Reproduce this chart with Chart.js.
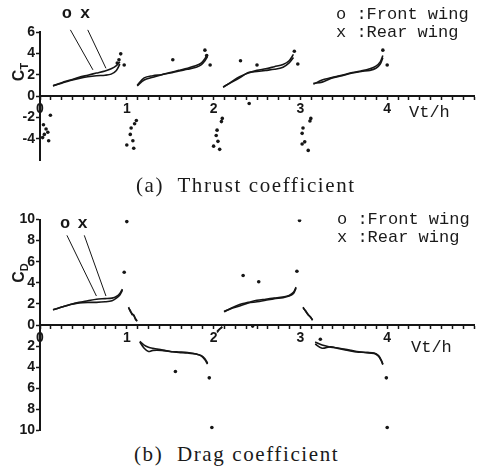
<!DOCTYPE html>
<html>
<head>
<meta charset="utf-8">
<script src="https://cdn.jsdelivr.net/npm/chart.js"></script>
<style>
  body { margin: 0; background: #fff; }
  #page { position: relative; width: 480px; height: 475px; overflow: hidden; }
  .mono { position: absolute; font-family: "Liberation Mono", monospace; font-size: 17px; color: #1a1a1a; white-space: pre; line-height: 18px; }
  .cap { position: absolute; font-family: "Liberation Serif", serif; font-size: 21px; letter-spacing: 1.6px; color: #1a1a1a; white-space: pre; line-height: 24px; }
  .ytitle { position: absolute; width: 30px; height: 20px; line-height: 20px; text-align: center; transform: rotate(-90deg);
            font-family: "Liberation Sans", sans-serif; font-weight: bold; font-size: 16px; color: #1a1a1a; }
  .ytitle sub { font-size: 11px; }
  canvas { position: absolute; left: 0; }
</style>
</head>
<body>
<div id="page">
  <canvas id="ct" width="480" height="175" style="top:0"></canvas>
  <canvas id="cd" width="480" height="240" style="top:200px"></canvas>

  <div class="ytitle" style="left:4px;top:62px">C<sub>T</sub></div>
  <div class="ytitle" style="left:4px;top:263px">C<sub>D</sub></div>

  <div class="mono" style="left:336px;top:6px">o :Front wing</div>
  <div class="mono" style="left:336px;top:24px">x :Rear wing</div>
  <div class="mono" style="left:409px;top:104px">Vt/h</div>

  <div class="mono" style="left:337px;top:211px">o :Front wing</div>
  <div class="mono" style="left:337px;top:229px">x :Rear wing</div>
  <div class="mono" style="left:411px;top:339px">Vt/h</div>

  <div class="cap" style="left:136px;top:173px">(a)  Thrust coefficient</div>
  <div class="cap" style="left:134px;top:442px">(b)  Drag coefficient</div>
</div>

<script>
// thrust coefficient, curves per stroke (null separates strokes)
const ctFrontX = [0.15,0.25,0.35,0.45,0.55,0.65,0.75,0.82,0.88,0.92, null,
  1.12,1.2,1.3,1.4,1.5,1.6,1.7,1.8,1.86,1.9,1.93, null,
  2.11,2.2,2.3,2.4,2.5,2.6,2.7,2.8,2.87,2.92, null,
  3.15,3.25,3.35,3.5,3.6,3.7,3.8,3.87,3.92,3.95];
const ctFrontY = [0.95,1.25,1.5,1.75,1.95,2.15,2.35,2.55,2.85,3.2, null,
  0.95,1.5,1.75,2.0,2.2,2.4,2.6,2.85,3.1,3.5,3.9, null,
  0.82,1.3,1.8,2.15,2.4,2.55,2.75,2.95,3.3,3.9, null,
  1.1,1.5,1.7,2.0,2.2,2.35,2.55,2.8,3.2,3.8];
const ctRearX = ctFrontX;
const ctRearY = [0.95,1.2,1.45,1.65,1.8,1.9,1.95,2.05,2.4,3.0, null,
  1.0,1.7,1.9,2.0,2.15,2.35,2.5,2.7,2.95,3.3,3.7, null,
  0.85,1.25,1.7,2.2,2.3,2.4,2.5,2.7,3.1,3.6, null,
  1.2,1.3,1.65,1.95,2.15,2.3,2.4,2.6,3.0,3.6];
const ctDotX = [0.93,0.91,0.97,0.89, 0.12,0.04,0.07,0.09,0.03,0.1,0.05,
  1.53,1.9,1.92,1.96, 1.11,1.05,1.04,1.07,1.0,1.08,1.09,
  2.31,2.5,2.41,2.97,2.93, 2.09,2.04,2.03,2.05,2.0,2.07,2.1,
  4.0,3.95, 3.11,3.03,3.02,3.05,3.02,3.09,3.12];
const ctDotY = [3.95,3.4,2.9,3.1, -1.8,-2.7,-3.1,-3.4,-3.9,-4.2,-3.6,
  3.4,4.3,3.8,2.9, -2.3,-3.0,-3.6,-4.2,-4.6,-4.9,-2.6,
  3.3,2.9,-0.7,3.0,4.2, -2.4,-3.2,-3.7,-4.25,-4.7,-5.0,-2.1,
  2.9,4.3, -2.35,-3.0,-3.5,-4.3,-4.5,-5.1,-2.1];

// drag coefficient
const cdFrontX = [0.15,0.25,0.35,0.45,0.55,0.65,0.75,0.83,0.88,0.92,0.95, null,
  1.02,1.04,1.06,1.08,1.1,1.12, null,
  1.15,1.2,1.25,1.3,1.4,1.5,1.6,1.7,1.8,1.86,1.9,1.93, null,
  2.04,2.07,2.1, null,
  2.12,2.2,2.3,2.4,2.5,2.6,2.7,2.8,2.87,2.92,2.95, null,
  3.03,3.06,3.09,3.12,3.14, null,
  3.17,3.25,3.35,3.45,3.55,3.65,3.75,3.85,3.9,3.93,3.95];
const cdFrontY = [1.45,1.7,1.95,2.15,2.3,2.45,2.5,2.55,2.7,3.0,3.4, null,
  1.7,1.3,1.1,0.9,0.6,0.4, null,
  -1.55,-1.9,-2.1,-2.2,-2.35,-2.5,-2.55,-2.6,-2.75,-2.9,-3.2,-3.6, null,
  -0.7,-0.4,-0.2, null,
  1.25,1.6,1.95,2.15,2.35,2.45,2.55,2.65,2.8,3.1,3.6, null,
  1.7,1.3,1.0,0.7,0.5, null,
  -1.6,-1.9,-2.1,-2.2,-2.35,-2.5,-2.6,-2.65,-2.9,-3.3,-3.75];
const cdRearX = cdFrontX;
const cdRearY = [1.45,1.7,1.95,2.1,2.15,2.15,2.2,2.3,2.55,2.85,3.3, null,
  1.6,1.4,1.0,0.95,0.55,0.35, null,
  -1.6,-2.2,-2.5,-2.4,-2.4,-2.5,-2.6,-2.65,-2.75,-2.95,-3.3,-3.7, null,
  -0.6,-0.35,-0.15, null,
  1.3,1.55,1.8,2.1,2.2,2.35,2.5,2.6,2.75,3.0,3.5, null,
  1.6,1.35,0.95,0.75,0.45, null,
  -1.8,-2.2,-2.05,-2.25,-2.4,-2.55,-2.6,-2.7,-2.95,-3.35,-3.7];
const cdDotX = [0.97,1.0, 1.56,1.95,1.98, 2.34,2.52,2.96,2.99,2.45, 3.23,3.99,4.0];
const cdDotY = [5.0,9.8, -4.4,-5.0,-9.7, 4.7,4.1,5.1,9.9,-0.1, -1.35,-5.0,-9.7];

// tick labels
const xTickLabels = ['0', '1', '2', '3', '4'];
const ctTicks = [6, 4, 2, 0, -2, -4];
const cdTicks = [10, 8, 6, 4, 2, 0, -2, -4, -6, -8, -10];

const ink = '#161616';
const tickFont = { family: 'Liberation Sans', weight: 'bold', size: 14 };

function pts(xs, ys) {
  return xs.map((x, i) => ({ x: x, y: x === null ? null : ys[i] }));
}

// "o" / "x" callout text drawn in data coordinates
const calloutText = {
  id: 'calloutText',
  afterDatasetsDraw(chart, args, opts) {
    const ctx = chart.ctx;
    ctx.save();
    ctx.fillStyle = ink;
    ctx.font = 'bold 17px "Liberation Mono"';
    ctx.textAlign = 'center';
    ctx.textBaseline = 'middle';
    opts.items.forEach(it => {
      ctx.fillText(it.text, chart.scales.x.getPixelForValue(it.x), chart.scales.y.getPixelForValue(it.y));
    });
    ctx.restore();
  }
};

function makeChart(id, front, rear, dots, leaders, callouts, yMin, yMax, yTicks, yLabel, pad) {
  const leaderSets = leaders.map(l => ({
    data: [{ x: l[0], y: l[1] }, { x: l[2], y: l[3] }],
    showLine: true, borderColor: ink, borderWidth: 1, pointRadius: 0, clip: false
  }));
  return new Chart(document.getElementById(id).getContext('2d'), {
    type: 'scatter',
    data: {
      datasets: [
        { label: 'Front wing', data: front, showLine: true, spanGaps: false, borderColor: ink, borderWidth: 1.6, pointRadius: 0, tension: 0.3 },
        { label: 'Rear wing', data: rear, showLine: true, spanGaps: false, borderColor: ink, borderWidth: 1.6, pointRadius: 0, tension: 0.3 },
        { label: 'points', data: dots, backgroundColor: ink, borderColor: ink, pointRadius: 1.8, borderWidth: 0 },
        ...leaderSets
      ]
    },
    options: {
      responsive: false,
      animation: false,
      layout: { padding: pad },
      plugins: {
        legend: { display: false },
        tooltip: { enabled: false },
        calloutText: { items: callouts }
      },
      scales: {
        x: {
          type: 'linear', min: 0, max: 5,
          position: { y: 0 },
          border: { display: true, color: ink, width: 2 },
          grid: { drawOnChartArea: false, drawTicks: true, tickLength: 3, color: ink, tickWidth: 1.5 },
          ticks: {
            stepSize: 0.125, autoSkip: false, maxRotation: 0, padding: 2,
            color: ink, font: tickFont,
            callback: v => Number.isInteger(v) && v < xTickLabels.length ? xTickLabels[v] : ''
          }
        },
        y: {
          type: 'linear', min: yMin, max: yMax,
          position: 'left',
          afterFit: s => { s.width = 40; },
          afterBuildTicks: s => { s.ticks = yTicks.map(v => ({ value: v })); },
          border: { display: true, color: ink, width: 2 },
          grid: { drawOnChartArea: false, drawTicks: true, tickLength: 4, color: ink, tickWidth: 1.5 },
          ticks: { padding: 1, color: ink, font: tickFont, callback: yLabel }
        }
      }
    },
    plugins: [calloutText]
  });
}

makeChart('ct',
  pts(ctFrontX, ctFrontY), pts(ctRearX, ctRearY), pts(ctDotX, ctDotY),
  [[0.35, 6.2, 0.61, 2.45], [0.55, 6.2, 0.76, 2.6]],
  [{ text: 'o', x: 0.31, y: 7.7 }, { text: 'x', x: 0.52, y: 7.7 }],
  -6, 6, ctTicks, v => String(v),
  { top: 32, bottom: 15, left: 0, right: 6 });

makeChart('cd',
  pts(cdFrontX, cdFrontY), pts(cdRearX, cdRearY), pts(cdDotX, cdDotY),
  [[0.31, 8.5, 0.65, 2.75], [0.51, 8.5, 0.76, 2.75]],
  [{ text: 'o', x: 0.29, y: 9.6 }, { text: 'x', x: 0.49, y: 9.6 }],
  -10, 10, cdTicks, v => String(Math.abs(v)),
  { top: 19.5, bottom: 8.5, left: 0, right: 6 });
</script>
</body>
</html>
